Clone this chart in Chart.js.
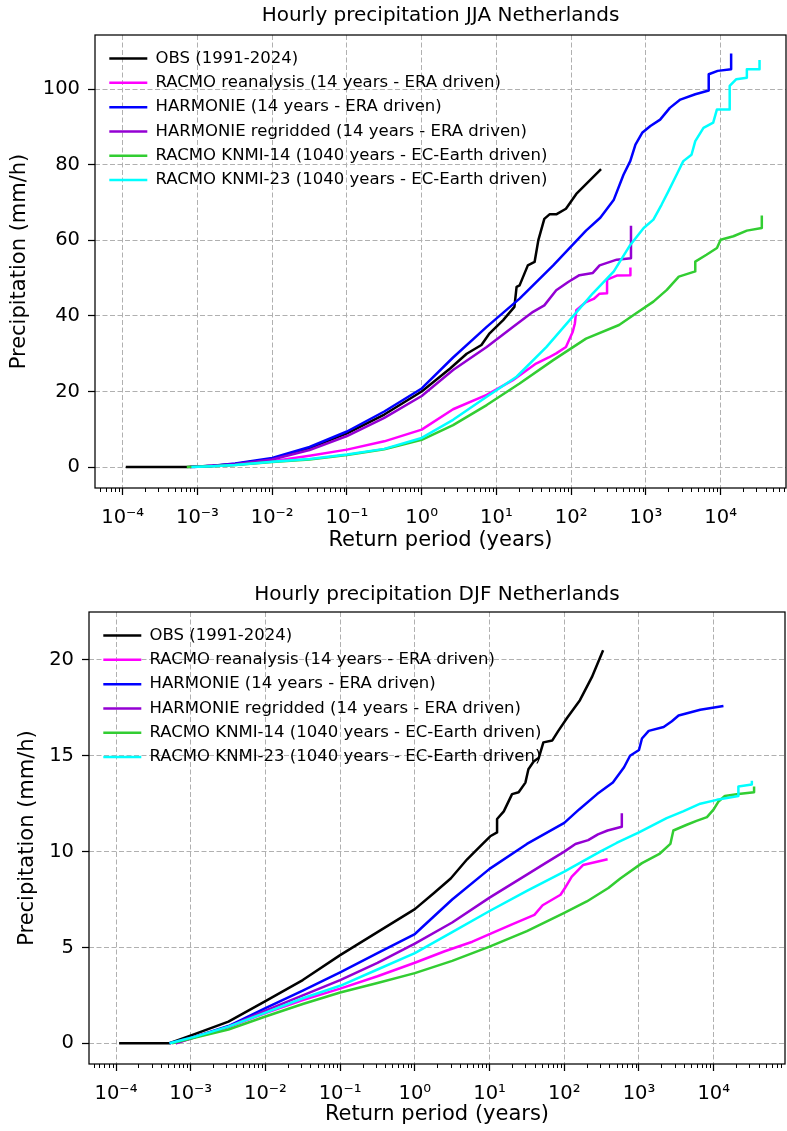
<!DOCTYPE html>
<html>
<head>
<meta charset="utf-8">
<title>Hourly precipitation Netherlands</title>
<script src="https://cdn.jsdelivr.net/npm/chart.js@4.4.1/dist/chart.umd.min.js"></script>
<style>
  html, body { margin: 0; padding: 0; background: #ffffff; }
  canvas { display: block; }
</style>
</head>
<body>
<canvas id="jja" width="787" height="568"></canvas>
<canvas id="djf" width="787" height="563"></canvas>
<script>
// series names and colours (same for both panels)
const seriesLabels = [
  'OBS (1991-2024)',
  'RACMO reanalysis (14 years - ERA driven)',
  'HARMONIE (14 years - ERA driven)',
  'HARMONIE regridded (14 years - ERA driven)',
  'RACMO KNMI-14 (1040 years - EC-Earth driven)',
  'RACMO KNMI-23 (1040 years - EC-Earth driven)'
];
const seriesColors = ['#000000', '#ff00ff', '#0000ff', '#9400d3', '#32cd32', '#00ffff'];

// x ticks (return period, years)
const xMajorTicks = [1e-4, 1e-3, 1e-2, 1e-1, 1, 10, 100, 1000, 10000];
const xTickLabels = ['10⁻⁴', '10⁻³', '10⁻²', '10⁻¹', '10⁰', '10¹', '10²', '10³', '10⁴'];
const jjaYTicks = [0, 20, 40, 60, 80, 100];
const djfYTicks = [0, 5, 10, 15, 20];

// JJA: [return period (years), precipitation (mm/h)]
const jjaObs = [[1.1e-4, 0], [7.2e-4, 0], [1.6e-3, 0.35], [0.0032, 0.8], [0.01, 2.1], [0.0316, 5.0], [0.1, 8.9], [0.316, 13.9], [1, 20.0], [2.4, 26.1], [4.0, 30.0], [6.3, 32.3], [8.1, 35.4], [12.3, 38.9], [17.4, 42.4], [18.6, 47.7], [20.4, 48.1], [26.3, 53.4], [32.4, 54.3], [36.3, 60.0], [43.7, 65.7], [51.3, 66.9], [63.1, 66.9], [85.1, 68.4], [117, 72.3], [251, 78.9]];
const jjaRacmoRe = [[7.9e-4, 0], [1.6e-3, 0.25], [0.0032, 0.6], [0.01, 1.5], [0.0316, 3.0], [0.1, 4.6], [0.316, 6.8], [1, 9.9], [2.63, 15.3], [7.41, 19.1], [16.6, 23.0], [33.9, 27.4], [50, 29.0], [63.1, 30.1], [85.1, 31.8], [105, 35.8], [112, 38.0], [117, 41.5], [158, 43.7], [200, 44.5], [240, 45.9], [302, 46.0], [302, 49.6], [407, 50.7], [620, 50.8], [620, 52.8]];
const jjaHarm = [[7.9e-4, 0], [1.6e-3, 0.35], [0.0032, 0.9], [0.01, 2.4], [0.0316, 5.3], [0.1, 9.4], [0.316, 14.7], [1, 20.8], [2.63, 29.0], [7.41, 37.1], [20.4, 44.6], [57.5, 53.4], [158, 62.6], [245, 66.0], [372, 70.8], [501, 77.4], [617, 81.0], [724, 85.4], [891, 88.5], [1148, 90.3], [1549, 92.0], [2089, 95.1], [2884, 97.3], [4571, 98.7], [6918, 99.7], [6918, 104.0], [9120, 104.9], [13800, 105.3], [13800, 109.5]];
const jjaHarmRegrid = [[8.9e-4, 0], [1.6e-3, 0.3], [0.0032, 0.75], [0.01, 2.0], [0.0316, 4.5], [0.1, 8.2], [0.316, 13.0], [1, 18.8], [2.63, 25.7], [7.41, 31.8], [16.6, 37.1], [30.9, 41.1], [43.7, 42.8], [63.1, 46.8], [91.2, 49.0], [129, 50.8], [195, 51.4], [240, 53.4], [407, 54.9], [631, 55.3], [631, 63.9]];
const jjaKnmi14 = [[7.2e-4, 0], [1.6e-3, 0.2], [0.0032, 0.5], [0.01, 1.3], [0.0316, 2.0], [0.1, 3.2], [0.316, 4.7], [1, 7.2], [2.63, 11.1], [7.41, 16.4], [20.4, 22.1], [57.5, 28.3], [158, 34.0], [437, 37.6], [692, 40.3], [1259, 43.8], [1905, 46.9], [2754, 50.4], [4571, 51.8], [4571, 54.4], [6457, 56.2], [8913, 58.0], [10000, 60.2], [14800, 61.1], [22400, 62.6], [35500, 63.3], [35500, 66.6]];
const jjaKnmi23 = [[8.3e-4, 0], [1.6e-3, 0.22], [0.0032, 0.55], [0.01, 1.4], [0.0316, 2.1], [0.1, 3.3], [0.316, 4.8], [1, 7.7], [2.63, 12.5], [7.41, 18.6], [18.6, 23.9], [46.8, 31.8], [95.5, 38.9], [195, 46.0], [372, 51.8], [617, 58.8], [933, 63.3], [1259, 65.5], [1622, 69.5], [1995, 73.0], [2570, 77.4], [3162, 81.0], [4074, 82.7], [4571, 86.3], [5888, 89.8], [7943, 91.2], [8913, 94.7], [13200, 94.7], [13200, 100.9], [16200, 102.7], [22400, 103.1], [22400, 105.3], [33100, 105.3], [33100, 107.8]];

// DJF
const djfObs = [[1.1e-4, 0], [5.2e-4, 0], [1.15e-3, 0.49], [0.0032, 1.13], [0.01, 2.2], [0.0316, 3.3], [0.1, 4.6], [0.316, 5.8], [1, 7.0], [1.82, 7.85], [3.02, 8.6], [5.01, 9.6], [7.59, 10.3], [10.2, 10.8], [12.6, 11.0], [12.6, 11.7], [15.5, 12.1], [20, 13.0], [24.5, 13.1], [30.2, 13.6], [33.1, 14.3], [38.9, 14.7], [45.7, 14.9], [52.5, 15.7], [69.2, 15.8], [83.2, 16.3], [110, 17.0], [162, 17.9], [234, 19.1], [331, 20.5]];
const djfRacmoRe = [[6.3e-4, 0], [1.15e-3, 0.33], [0.0032, 0.85], [0.01, 1.57], [0.0316, 2.26], [0.1, 2.85], [0.316, 3.5], [1, 4.2], [2.51, 4.8], [5.89, 5.3], [10, 5.7], [20, 6.2], [39.8, 6.7], [51.3, 7.2], [89.1, 7.75], [102, 8.1], [126, 8.7], [178, 9.3], [380, 9.6]];
const djfHarm = [[5.2e-4, 0], [1.15e-3, 0.35], [0.0032, 0.9], [0.01, 1.83], [0.0316, 2.75], [0.1, 3.7], [0.316, 4.7], [1, 5.7], [3.16, 7.5], [10, 9.1], [31.6, 10.4], [100, 11.5], [158, 12.2], [275, 13.0], [447, 13.6], [631, 14.4], [759, 15.0], [1000, 15.3], [1096, 15.9], [1349, 16.3], [2138, 16.5], [2754, 16.8], [3388, 17.1], [6607, 17.4], [13500, 17.6]];
const djfHarmRegrid = [[6.3e-4, 0], [1.15e-3, 0.33], [0.0032, 0.87], [0.01, 1.7], [0.0316, 2.5], [0.1, 3.3], [0.316, 4.2], [1, 5.2], [3.16, 6.3], [10, 7.6], [31.6, 8.8], [56, 9.4], [100, 10.0], [141, 10.4], [209, 10.6], [282, 10.9], [380, 11.1], [589, 11.3], [589, 12.0]];
const djfKnmi14 = [[5.6e-4, 0], [1.15e-3, 0.3], [0.0032, 0.72], [0.01, 1.4], [0.0316, 2.05], [0.1, 2.65], [0.316, 3.15], [1, 3.66], [3.16, 4.3], [10, 5.04], [31.6, 5.85], [100, 6.8], [200, 7.4], [389, 8.1], [562, 8.6], [1096, 9.4], [1905, 9.9], [2630, 10.4], [2884, 11.1], [4365, 11.4], [5888, 11.6], [8128, 11.8], [10000, 12.2], [11500, 12.6], [14100, 12.9], [21400, 13.0], [34700, 13.1], [34700, 13.4]];
const djfKnmi23 = [[5.2e-4, 0], [1.15e-3, 0.35], [0.0032, 0.87], [0.01, 1.6], [0.0316, 2.35], [0.1, 3.0], [0.316, 3.85], [1, 4.7], [3.16, 5.8], [10, 6.9], [31.6, 7.95], [100, 8.96], [302, 10.0], [501, 10.45], [1000, 11.0], [2344, 11.75], [3890, 12.1], [6607, 12.5], [11000, 12.7], [21400, 12.9], [21400, 13.4], [32400, 13.5], [32400, 13.7]];

Chart.defaults.font.family = "'DejaVu Sans', sans-serif";
Chart.defaults.color = '#000000';

// frame round the axes, minor log ticks, legend placed inside the plot
const framePlugin = {
  id: 'frame',
  afterLayout(chart) {
    const lg = chart.legend, a = chart.chartArea;
    lg.left = a.left + 6.5;
    lg.top = a.top + 7.5;
    lg.right = a.right;
    lg.bottom = a.bottom;
  },
  afterDraw(chart) {
    const ctx = chart.ctx, a = chart.chartArea, x = chart.scales.x;
    ctx.save();
    ctx.strokeStyle = '#000000';
    ctx.lineWidth = 1;
    ctx.beginPath();
    for (let e = -5; e <= 4; e++) {
      for (let m = 2; m <= 9; m++) {
        const v = m * Math.pow(10, e);
        if (v <= x.min || v >= x.max) continue;
        const px = Math.round(x.getPixelForValue(v)) + 0.5;
        ctx.moveTo(px, a.bottom);
        ctx.lineTo(px, a.bottom + 4);
      }
    }
    ctx.stroke();
    ctx.lineWidth = 1.25;
    ctx.strokeRect(a.left, a.top, a.right - a.left, a.bottom - a.top);
    ctx.restore();
  }
};

function makeChart(id, p) {
  const gridOpts = { color: '#b0b0b0', lineWidth: 1, tickColor: '#000000', tickLength: 7, tickWidth: 1.25 };
  return new Chart(document.getElementById(id), {
    type: 'line',
    data: {
      datasets: p.series.map((pts, i) => ({
        label: seriesLabels[i],
        data: pts,
        borderColor: seriesColors[i],
        backgroundColor: seriesColors[i],
        borderWidth: 2.5,
        borderJoinStyle: 'round',
        pointRadius: 0,
        tension: 0,
        fill: false,
        order: p.series.length - i
      }))
    },
    options: {
      responsive: false,
      animation: false,
      events: [],
      layout: { padding: { left: 0, right: p.padRight, top: 0, bottom: 0 } },
      plugins: {
        title: {
          display: true,
          text: p.title,
          fullSize: false,
          color: '#000000',
          font: { size: 20, weight: 'normal' },
          padding: { top: p.titleTop, bottom: p.titleBottom }
        },
        legend: {
          position: 'chartArea',
          align: 'start',
          labels: {
            usePointStyle: true,
            pointStyle: 'line',
            pointStyleWidth: 38,
            padding: 7.8,
            color: '#000000',
            font: { size: 16.5 },
            sort: (a, b) => a.datasetIndex - b.datasetIndex
          }
        },
        tooltip: { enabled: false }
      },
      scales: {
        x: {
          type: 'logarithmic',
          min: p.xMin,
          max: p.xMax,
          afterBuildTicks: s => { s.ticks = xMajorTicks.map(v => ({ value: v })); },
          afterFit: s => { s.height = p.xAxisHeight; },
          ticks: {
            autoSkip: false, maxRotation: 0, minRotation: 0, padding: 11,
            color: '#000000', font: { size: 19.5 },
            callback: (v, i) => xTickLabels[i]
          },
          grid: gridOpts,
          border: { display: false, dash: [5, 2.5] },
          title: {
            display: true, text: 'Return period (years)', color: '#000000',
            font: { size: 21 }, padding: { top: 0, bottom: p.xTitleBottom }
          }
        },
        y: {
          min: p.yMin,
          max: p.yMax,
          afterBuildTicks: s => { s.ticks = p.yTicks.map(v => ({ value: v })); },
          afterFit: s => { s.width = p.yAxisWidth; },
          ticks: { padding: 8, color: '#000000', font: { size: 19.5 } },
          grid: gridOpts,
          border: { display: false, dash: [5, 2.5] },
          title: {
            display: true, text: 'Precipitation (mm/h)', color: '#000000',
            font: { size: 21 }, padding: { top: p.yTitleLeft, bottom: 0 }
          }
        }
      }
    },
    plugins: [framePlugin]
  });
}

makeChart('jja', {
  title: 'Hourly precipitation JJA Netherlands',
  series: [jjaObs, jjaRacmoRe, jjaHarm, jjaHarmRegrid, jjaKnmi14, jjaKnmi23],
  yTicks: jjaYTicks,
  xMin: 4.26e-5, xMax: 7.48e4,
  yMin: -5.56, yMax: 114.4,
  padRight: 1, yAxisWidth: 95, xAxisHeight: 80,
  titleTop: 4, titleBottom: 7,
  xTitleBottom: 14.4, yTitleLeft: 7.4
});

makeChart('djf', {
  title: 'Hourly precipitation DJF Netherlands',
  series: [djfObs, djfRacmoRe, djfHarm, djfHarmRegrid, djfKnmi14, djfKnmi23],
  yTicks: djfYTicks,
  xMin: 4.35e-5, xMax: 9.0e4,
  yMin: -1.08, yMax: 22.5,
  padRight: 2, yAxisWidth: 89, xAxisHeight: 67,
  titleTop: 15, titleBottom: 5,
  xTitleBottom: 3.4, yTitleLeft: 15.4
});
</script>
</body>
</html>
